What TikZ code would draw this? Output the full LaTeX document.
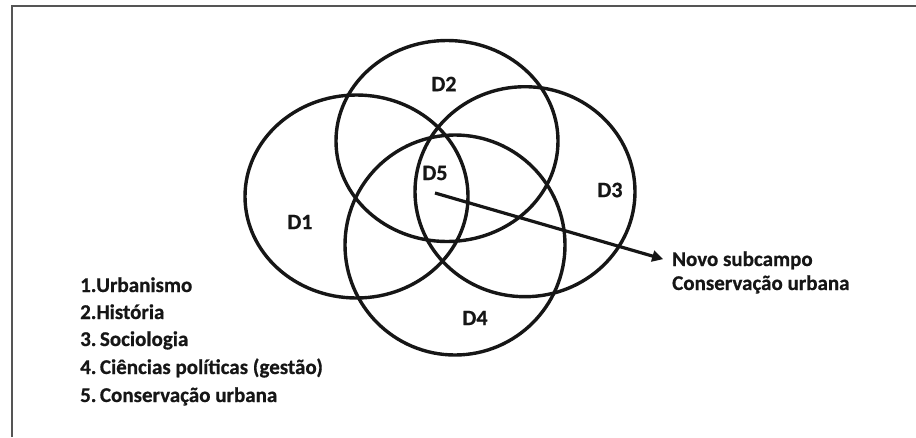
\documentclass[tikz,border=0pt]{standalone}
\usepackage{fontspec}
\setmainfont{Carlito}[BoldFeatures={FakeBold=0.6}]
\usetikzlibrary{arrows.meta}
\definecolor{ink}{HTML}{161616}
\definecolor{framegray}{HTML}{555555}
\tikzset{
  ring/.style={draw=ink, line width=3.4pt},
  dlabel/.style={font=\bfseries\fontsize{22}{24}\selectfont, text=ink, inner sep=0pt},
  listitem/.style={font=\bfseries\fontsize{21}{24}\selectfont, text=ink, anchor=base west, inner sep=0pt},
  note/.style={font=\bfseries\fontsize{21}{24}\selectfont, text=ink, anchor=base west, inner sep=5pt},
  pointer/.style={draw=ink, line width=3.2pt, -{Triangle[length=11pt,width=11pt]}, shorten >=4pt}
}
\begin{document}
\begin{tikzpicture}[x=1pt,y=-1pt]
\useasboundingbox (0,0) rectangle (916,437);
% frame (only top and left edges visible)
\draw[framegray, line width=2pt] (12,437) -- (12,6) -- (916,6);
% ellipses
\draw[ring] (356.5,196.5) ellipse [x radius=111.5, y radius=101.5];
\draw[ring] (447,141) ellipse [x radius=111, y radius=100.5];
\draw[ring] (525,191.7) ellipse [x radius=110, y radius=105];
\draw[ring] (455,245) ellipse [x radius=110, y radius=110];
% labels
\node[dlabel] (d1) at (300,222) {D1};
\node[dlabel] (d2) at (444,84) {D2};
\node[dlabel] (d3) at (610,190) {D3};
\node[dlabel] (d4) at (475,318) {D4};
\node[dlabel] (d5) at (435,173) {D5};
\coordinate (start) at (435,193);
% note
\node[note] (n1) at (667,266) {Novo subcampo};
\node[listitem] (n2) at (672,290) {Conservação urbana};
\draw[pointer] (start) -- (n1.west);
% list
\node[listitem] (l1) at (80,292) {1.Urbanismo};
\node[listitem] (l2) at (80,319) {2.História};
\node[listitem] (l3) at (80,346) {3.\,Sociologia};
\node[listitem] (l4) at (80,374) {4.\,Ciências políticas (gestão)};
\node[listitem] (l5) at (80,402) {5.\,Conservação urbana};
\end{tikzpicture}
\end{document}
